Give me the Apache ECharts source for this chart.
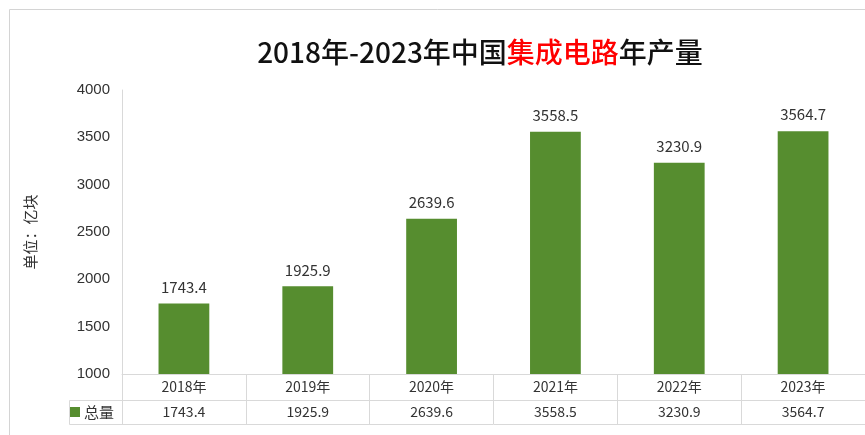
<!DOCTYPE html>
<html>
<head>
<meta charset="utf-8">
<style>
html,body{margin:0;padding:0;background:#fff;}
#main{width:865px;height:435px;}
</style>
<script src="https://cdn.jsdelivr.net/npm/echarts@6/dist/echarts.min.js"></script>
</head>
<body>
<div id="main"></div>
<script>
var categories = ['2018年', '2019年', '2020年', '2021年', '2022年', '2023年'];
var totals = [1743.4, 1925.9, 2639.6, 3558.5, 3230.9, 3564.7];
var seriesName = '总量';
var yTicks = {min: 1000, max: 4000, interval: 500};

var chart = echarts.init(document.getElementById('main'));
var labelFont = '"Noto Sans CJK SC", "Liberation Sans", sans-serif';
var lineColor = '#d9d9d9';
var green = '#568d2f';

var option = {
  backgroundColor: '#fff',
  animation: false,
  title: {
    text: '{a|2018年-2023年中国}{r|集成电路}{a|年产量}',
    left: 475,
    textAlign: 'center',
    top: 33,
    textStyle: {
      rich: {
        a: {fontSize: 28, fontWeight: 500, color: '#111', fontFamily: labelFont},
        r: {fontSize: 28, fontWeight: 500, color: '#ff0000', fontFamily: labelFont}
      }
    }
  },
  legend: {
    data: [seriesName],
    left: 70,
    top: 402,
    padding: 0,
    icon: 'rect',
    itemWidth: 10,
    itemHeight: 10,
    itemGap: 4,
    textStyle: {fontSize: 15, lineHeight: 20, color: '#333', fontFamily: labelFont, padding: [0, 0, 0, -1]},
    selectedMode: false
  },
  grid: {left: 122, right: -2, top: 90, bottom: 61, containLabel: false},
  xAxis: [
    {
      type: 'category',
      data: categories,
      position: 'bottom',
      axisLine: {show: true, lineStyle: {color: lineColor}},
      axisTick: {show: true, length: 26, lineStyle: {color: lineColor}},
      axisLabel: {fontSize: 14, color: '#333', margin: 6, fontFamily: labelFont}
    },
    {
      type: 'category',
      data: totals.map(function (v) { return v.toFixed(1); }),
      position: 'bottom',
      offset: 26,
      axisLine: {show: true, lineStyle: {color: lineColor}},
      axisTick: {show: true, length: 24, lineStyle: {color: lineColor}},
      axisLabel: {fontSize: 14, color: '#333', margin: 5, fontFamily: labelFont}
    },
    {
      type: 'category',
      data: categories,
      position: 'bottom',
      offset: 50,
      axisLine: {show: true, lineStyle: {color: lineColor}},
      axisTick: {show: false},
      axisLabel: {show: false}
    }
  ],
  yAxis: {
    type: 'value',
    min: yTicks.min,
    max: yTicks.max,
    interval: yTicks.interval,
    name: '单位：亿块',
    nameLocation: 'middle',
    nameRotate: 90,
    nameGap: 84,
    nameTextStyle: {fontSize: 15, color: '#333', fontFamily: labelFont},
    axisLine: {show: true, lineStyle: {color: lineColor}},
    axisTick: {show: false},
    splitLine: {show: false},
    axisLabel: {
      fontSize: 15, color: '#333', margin: 12,
      fontFamily: '"Liberation Sans", Arial, sans-serif',
      formatter: function (v) { return String(v); }
    }
  },
  series: [
    {
      name: seriesName,
      type: 'bar',
      xAxisIndex: 0,
      data: totals,
      barWidth: '41%',
      itemStyle: {color: green},
      label: {
        show: true,
        position: 'top',
        distance: 9,
        fontSize: 15,
        color: '#333',
        fontFamily: labelFont,
        formatter: function (p) { return p.value.toFixed(1); }
      }
    }
  ],
  graphic: [
    {
      type: 'rect',
      shape: {x: 9.5, y: 9.5, width: 900, height: 500},
      style: {fill: 'none', stroke: '#d4d4d4', lineWidth: 1},
      silent: true,
      z: -1
    },
    {
      type: 'rect',
      shape: {x: 69.5, y: 400.5, width: 53, height: 24},
      style: {fill: 'none', stroke: lineColor, lineWidth: 1},
      silent: true
    }
  ]
};
chart.setOption(option);
</script>
</body>
</html>
